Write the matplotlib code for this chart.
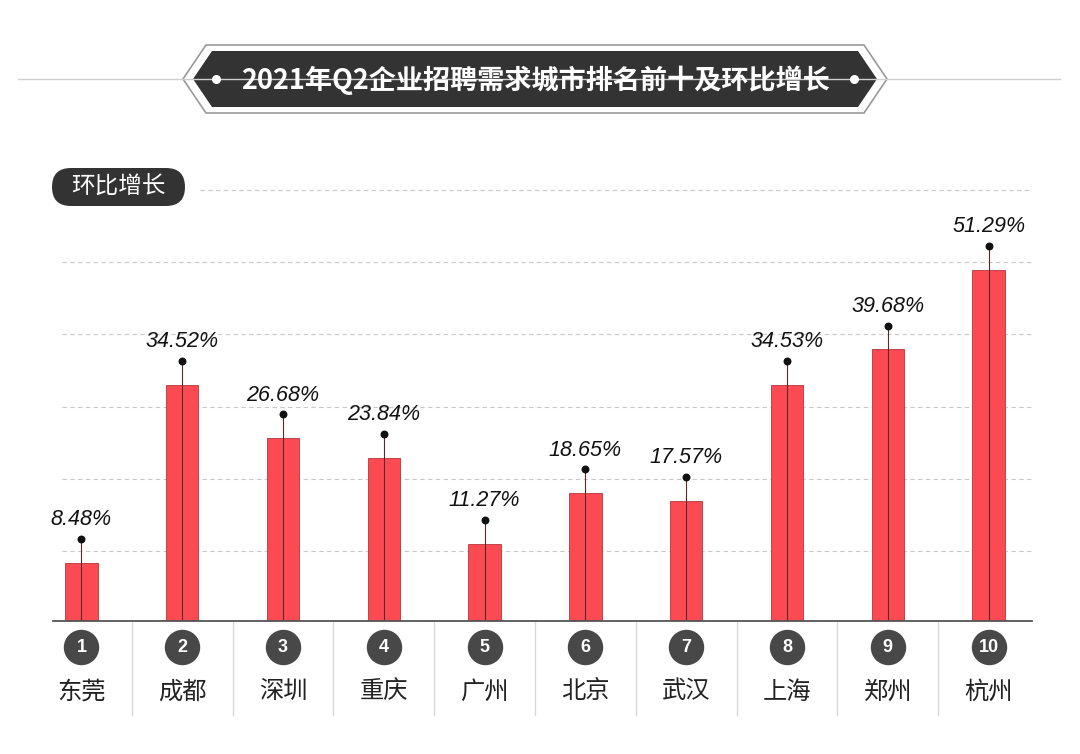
import matplotlib.pyplot as plt
from matplotlib.patches import Polygon, FancyBboxPatch

plt.rcParams['font.family'] = ['Noto Sans CJK SC', 'DejaVu Sans']

# ── Data ──────────────────────────────────────────────────────────────────────
cities = ['东莞', '成都', '深圳', '重庆', '广州', '北京', '武汉', '上海', '郑州', '杭州']
ranks  = [1, 2, 3, 4, 5, 6, 7, 8, 9, 10]
growth = [8.48, 34.52, 26.68, 23.84, 11.27, 18.65, 17.57, 34.53, 39.68, 51.29]
title  = '2021年Q2企业招聘需求城市排名前十及环比增长'
tag    = '环比增长'

BAR_RED  = '#fc4a53'
DARK     = '#333333'
W, H     = 1080, 754

fig = plt.figure(figsize=(W / 100, H / 100), dpi=100)
fig.patch.set_facecolor('white')

# pixel-space overlay for decorations
deco = fig.add_axes([0, 0, 1, 1], zorder=0)
deco.set_xlim(0, W)
deco.set_ylim(H, 0)
deco.axis('off')

# ── Title banner ──────────────────────────────────────────────────────────────
deco.plot([18, 1060], [79, 79], color='#cfcfcf', lw=1)
outer = [(183, 79), (206, 45), (864, 45), (887, 79), (864, 113), (206, 113)]
inner = [(193, 79), (212, 51), (858, 51), (877, 79), (858, 107), (212, 107)]
deco.add_patch(Polygon(outer, closed=True, facecolor='white', edgecolor='#9a9a9a', lw=1.2))
deco.add_patch(Polygon(inner, closed=True, facecolor=DARK, edgecolor='none'))
deco.scatter([216, 854], [79, 79], s=30, color='white', zorder=3)
deco.text(536, 80, title, color='white', fontsize=19.5, fontweight='bold',
          ha='center', va='center')

# ── Tag pill ──────────────────────────────────────────────────────────────────
deco.add_patch(FancyBboxPatch((52, 168), 133, 38,
                              boxstyle='round,pad=0,rounding_size=19',
                              facecolor=DARK, edgecolor='none'))
deco.text(118.5, 187.5, tag, color='white', fontsize=17, ha='center', va='center')

# ── Bars ──────────────────────────────────────────────────────────────────────
# axes spans x 31..1039 px, y 160..621 px (from top)
ax = fig.add_axes([31 / W, (H - 621) / H, 1008 / W, (621 - 160) / H], zorder=1)
ax.patch.set_alpha(0)
ax.set_xlim(-0.5, 9.5)
ax.set_ylim(0, (621 - 160) / 6.843)
ax.axis('off')

grid_levels = [10.2, 20.8, 31.3, 41.9, 52.5, 63.0]
for g in grid_levels:
    x0 = 1.18 if g == grid_levels[-1] else -0.19
    ax.plot([x0, 9.43], [g, g], color='#c8c8c8', lw=0.8, ls=(0, (4, 3)), zorder=0)

xs = list(range(len(cities)))
ax.bar(xs, growth, width=0.32, color=BAR_RED, edgecolor='#b8343a', lw=0.6, zorder=2)

for x, v in zip(xs, growth):
    dot = v + 3.5
    ax.plot([x, x], [0, dot], color='#5a2a2a', lw=0.8, zorder=3)
    ax.scatter([x], [dot], s=22, color='#111111', zorder=4)
    ax.text(x, dot + 1.3, f'{v:.2f}%', ha='center', va='bottom', fontsize=15.5,
            style='italic', family=['Liberation Sans', 'DejaVu Sans'], color='#111111')

# axis line and separators
ax.plot([-0.28, 9.43], [0, 0], color='#555555', lw=1.3, clip_on=False, zorder=5)
for i in range(len(cities) - 1):
    ax.plot([i + 0.5, i + 0.5], [0, -13.7], color='#d8d8d8', lw=1, clip_on=False)

for x, r, c in zip(xs, ranks, cities):
    ax.scatter([x], [-3.8], s=600, color='#484848', clip_on=False, zorder=5)
    ax.text(x, -3.8, str(r), color='white', fontsize=13, fontweight='bold',
            ha='center', va='center', zorder=6, family=['Liberation Sans', 'DejaVu Sans'])
    ax.text(x, -10.3, c, color='#222222', fontsize=17.5, ha='center', va='center')

plt.savefig('out.png', dpi=100)
